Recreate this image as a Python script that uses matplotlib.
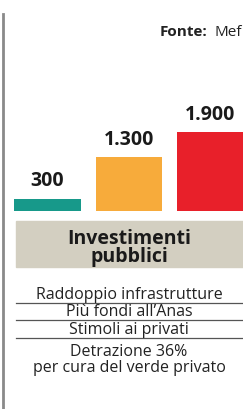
import matplotlib
matplotlib.use("Agg")
import matplotlib.pyplot as plt
from matplotlib.patches import Rectangle

plt.rcParams['font.family'] = ['Open Sans', 'DejaVu Sans']

values = [300, 1300, 1900]
labels = ["300", "1.300", "1.900"]
colors = ["#17998a", "#f7ab3b", "#e8202a"]
title = "Investimenti\npubblici"
rows = ["Raddoppio infrastrutture", "Più fondi all\u2019Anas", "Stimoli ai privati",
        "Detrazione 36%\nper cura del verde privato"]

W, H = 243, 410
fig = plt.figure(figsize=(W/100, H/100), dpi=100)

# overlay in pixel coords for the frame and the table
ov = fig.add_axes([0, 0, 1, 1])
ov.set_xlim(0, W)
ov.set_ylim(H, 0)
ov.axis("off")

ov.plot([3, 3], [15, H], color="#8a8a8a", lw=2)
t = ov.text(160, 32, "Fonte:", fontsize=11, fontweight="bold", ha="left", va="center",
            color="#222222")
ov.annotate("Mef", xy=(1, 0.5), xycoords=t, xytext=(5, 0), textcoords="offset points",
            fontsize=11, ha="left", va="center", color="#222222", annotation_clip=False)

ov.add_patch(Rectangle((16, 222), W-16, 46, color="#d3cfc1"))
ov.text(129, 248, title, fontsize=14, fontweight="bold", ha="center", va="center",
        linespacing=0.85, color="#1a1a1a")

ys = [295, 312, 330, 360]
for r, y in zip(rows, ys):
    ov.text(129, y, r, fontsize=11.5, ha="center", va="center", linespacing=1.0, color="#222222")
for y in [304, 321, 339]:
    ov.plot([16, W], [y, y], color="#555555", lw=0.9)

# bars
ax = fig.add_axes([0, 1-212/H, 1, 83/H])
x = range(len(values))
ax.bar(x, values, width=0.815, color=colors)
ax.set_xlim(-47/81, 2.40)
ax.set_ylim(0, 2000)
ax.axis("off")
for i, (v, l) in enumerate(zip(values, labels)):
    ax.text(i, v + 440, l, ha="center", va="center", fontsize=14, fontweight="bold",
            color="#1a1a1a", clip_on=False)

fig.savefig("out.png", dpi=100)
